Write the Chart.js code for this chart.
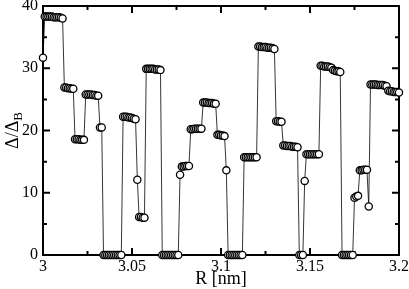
<!DOCTYPE html>
<html>
<head>
<meta charset="UTF-8">
<script src="https://cdn.jsdelivr.net/npm/chart.js"></script>
<style>
  html, body { margin: 0; padding: 0; background: #fff; }
  canvas { display: block; }
</style>
</head>
<body>
<canvas id="chart" width="409" height="289"></canvas>
<script>
// R grid [nm]
const rValues = [
  3.000, 3.001, 3.002, 3.003, 3.004, 3.005, 3.006, 3.007, 3.008, 3.009,
  3.010, 3.011, 3.012, 3.013, 3.014, 3.015, 3.016, 3.017, 3.018, 3.019,
  3.020, 3.021, 3.022, 3.023, 3.024, 3.025, 3.026, 3.027, 3.028, 3.029,
  3.030, 3.031, 3.032, 3.033, 3.034, 3.035, 3.036, 3.037, 3.038, 3.039,
  3.040, 3.041, 3.042, 3.043, 3.044, 3.045, 3.046, 3.047, 3.048, 3.049,
  3.050, 3.051, 3.052, 3.053, 3.054, 3.055, 3.056, 3.057, 3.058, 3.059,
  3.060, 3.061, 3.062, 3.063, 3.064, 3.065, 3.066, 3.067, 3.068, 3.069,
  3.070, 3.071, 3.072, 3.073, 3.074, 3.075, 3.076, 3.077, 3.078, 3.079,
  3.080, 3.081, 3.082, 3.083, 3.084, 3.085, 3.086, 3.087, 3.088, 3.089,
  3.090, 3.091, 3.092, 3.093, 3.094, 3.095, 3.096, 3.097, 3.098, 3.099,
  3.100, 3.101, 3.102, 3.103, 3.104, 3.105, 3.106, 3.107, 3.108, 3.109,
  3.110, 3.111, 3.112, 3.113, 3.114, 3.115, 3.116, 3.117, 3.118, 3.119,
  3.120, 3.121, 3.122, 3.123, 3.124, 3.125, 3.126, 3.127, 3.128, 3.129,
  3.130, 3.131, 3.132, 3.133, 3.134, 3.135, 3.136, 3.137, 3.138, 3.139,
  3.140, 3.141, 3.142, 3.143, 3.144, 3.145, 3.146, 3.147, 3.148, 3.149,
  3.150, 3.151, 3.152, 3.153, 3.154, 3.155, 3.156, 3.157, 3.158, 3.159,
  3.160, 3.161, 3.162, 3.163, 3.164, 3.165, 3.166, 3.167, 3.168, 3.169,
  3.170, 3.171, 3.172, 3.173, 3.174, 3.175, 3.176, 3.177, 3.178, 3.179,
  3.180, 3.181, 3.182, 3.183, 3.184, 3.185, 3.186, 3.187, 3.188, 3.189,
  3.190, 3.191, 3.192, 3.193, 3.194, 3.195, 3.196, 3.197, 3.198, 3.199,
  3.200
];

// Delta / Delta_B
const ratioValues = [
  31.7,
  38.3, 38.3, 38.3, 38.3, 38.3, 38.2, 38.2, 38.2, 38.2, 38.1, 38.0,
  26.9, 26.9, 26.8, 26.8, 26.7, 26.7,
  18.6, 18.6, 18.6, 18.5, 18.5, 18.5,
  25.8, 25.8, 25.8, 25.8, 25.7, 25.7, 25.6, 25.6,
  20.5, 20.5,
  0, 0, 0, 0, 0, 0, 0, 0, 0, 0, 0,
  22.2, 22.2, 22.2, 22.1, 22.1, 22.0, 21.9, 21.8,
  12.1,
  6.1, 6.1, 6.0, 6.0,
  29.9, 29.9, 29.9, 29.9, 29.9, 29.8, 29.8, 29.8, 29.7,
  0, 0, 0, 0, 0, 0, 0, 0, 0, 0,
  12.9,
  14.2, 14.2, 14.3, 14.3, 14.3,
  20.2, 20.2, 20.3, 20.3, 20.3, 20.3, 20.3,
  24.5, 24.5, 24.5, 24.4, 24.4, 24.4, 24.3, 24.3,
  19.3, 19.3, 19.2, 19.2, 19.1,
  13.6,
  0, 0, 0, 0, 0, 0, 0, 0, 0,
  15.7, 15.7, 15.7, 15.7, 15.7, 15.7, 15.7, 15.7,
  33.5, 33.5, 33.4, 33.4, 33.4, 33.3, 33.3, 33.3, 33.2, 33.1,
  21.5, 21.5, 21.4, 21.4,
  17.6, 17.6, 17.5, 17.5, 17.5, 17.4, 17.4, 17.4, 17.3,
  0, 0, 0,
  11.9,
  16.2, 16.2, 16.2, 16.2, 16.2, 16.2, 16.2, 16.2,
  30.4, 30.4, 30.3, 30.3, 30.3, 30.2, 30.1,
  29.7, 29.6, 29.5, 29.5, 29.4,
  0, 0, 0, 0, 0, 0, 0,
  9.2, 9.4, 9.5,
  13.6, 13.6, 13.7, 13.7, 13.7,
  7.8,
  27.4, 27.4, 27.4, 27.4, 27.3, 27.3, 27.3, 27.3, 27.2, 27.1,
  26.4, 26.3, 26.3, 26.2, 26.2, 26.2, 26.1
];

const xMajorTicks = [3, 3.05, 3.1, 3.15, 3.2];
const xMinorTicks = [3.025, 3.075, 3.125, 3.175];
const yMajorTicks = [0, 10, 20, 30, 40];
const yMinorTicks = [5, 15, 25, 35];

const FONT = "'Liberation Serif', 'DejaVu Serif', serif";

// frame + inward ticks on all four sides, drawn under the points
const framePlugin = {
  id: 'frame',
  beforeDatasetsDraw(chart) {
    const { ctx, chartArea: a, scales: { x, y } } = chart;
    ctx.save();
    ctx.strokeStyle = '#000';
    ctx.lineWidth = 2;
    ctx.strokeRect(a.left, a.top, a.right - a.left, a.bottom - a.top);
    ctx.beginPath();
    const tickX = (v, len) => {
      const px = x.getPixelForValue(v);
      ctx.moveTo(px, a.bottom); ctx.lineTo(px, a.bottom - len);
      ctx.moveTo(px, a.top); ctx.lineTo(px, a.top + len);
    };
    const tickY = (v, len) => {
      const py = y.getPixelForValue(v);
      ctx.moveTo(a.left, py); ctx.lineTo(a.left + len, py);
      ctx.moveTo(a.right, py); ctx.lineTo(a.right - len, py);
    };
    xMajorTicks.forEach(v => tickX(v, 7));
    xMinorTicks.forEach(v => tickX(v, 4));
    yMajorTicks.forEach(v => tickY(v, 7));
    yMinorTicks.forEach(v => tickY(v, 4));
    ctx.stroke();
    ctx.restore();
  },
  afterDraw(chart) {
    // y axis title with subscript B
    const { ctx, chartArea: a } = chart;
    ctx.save();
    ctx.fillStyle = '#000';
    ctx.translate(12, (a.top + a.bottom) / 2);
    ctx.rotate(-Math.PI / 2);
    ctx.textBaseline = 'alphabetic';
    const main = 'Δ/Δ';
    ctx.font = '18px ' + FONT;
    const w1 = ctx.measureText(main).width;
    ctx.font = '13px ' + FONT;
    const w2 = ctx.measureText('B').width;
    const start = -(w1 + w2) / 2;
    ctx.font = '18px ' + FONT;
    ctx.fillText(main, start, 6);
    ctx.font = '13px ' + FONT;
    ctx.fillText('B', start + w1, 10);
    ctx.restore();
  }
};

new Chart(document.getElementById('chart'), {
  type: 'line',
  data: {
    datasets: [{
      data: rValues.map((r, i) => ({ x: r, y: ratioValues[i] })),
      borderColor: '#000',
      borderWidth: 0.8,
      pointRadius: 3.6,
      pointBackgroundColor: '#fff',
      pointBorderColor: '#000',
      pointBorderWidth: 1.3,
      tension: 0,
      clip: false
    }]
  },
  options: {
    responsive: false,
    animation: false,
    devicePixelRatio: 1,
    layout: { padding: { left: 0, right: 10, top: 6, bottom: 0 } },
    plugins: { legend: { display: false }, tooltip: { enabled: false } },
    scales: {
      x: {
        type: 'linear',
        min: 3, max: 3.2,
        afterBuildTicks: s => { s.ticks = xMajorTicks.map(v => ({ value: v })); },
        afterFit: s => { s.height = 34; s.paddingLeft = 0; s.paddingRight = 0; },
        grid: { display: false, drawTicks: false },
        border: { display: false },
        ticks: {
          color: '#000',
          font: { family: FONT, size: 16 },
          padding: 2,
          maxRotation: 0,
          callback: v => String(+v.toFixed(2))
        },
        title: {
          display: true, text: 'R [nm]', color: '#000',
          font: { family: FONT, size: 18 },
          padding: { top: 0, bottom: -1 }
        }
      },
      y: {
        min: 0, max: 40,
        afterBuildTicks: s => { s.ticks = yMajorTicks.map(v => ({ value: v })); },
        afterFit: s => { s.width = 43; s.paddingTop = 0; s.paddingBottom = 0; },
        grid: { display: false, drawTicks: false },
        border: { display: false },
        ticks: {
          color: '#000',
          font: { family: FONT, size: 16 },
          padding: 5
        }
      }
    }
  },
  plugins: [framePlugin]
});
</script>
</body>
</html>
